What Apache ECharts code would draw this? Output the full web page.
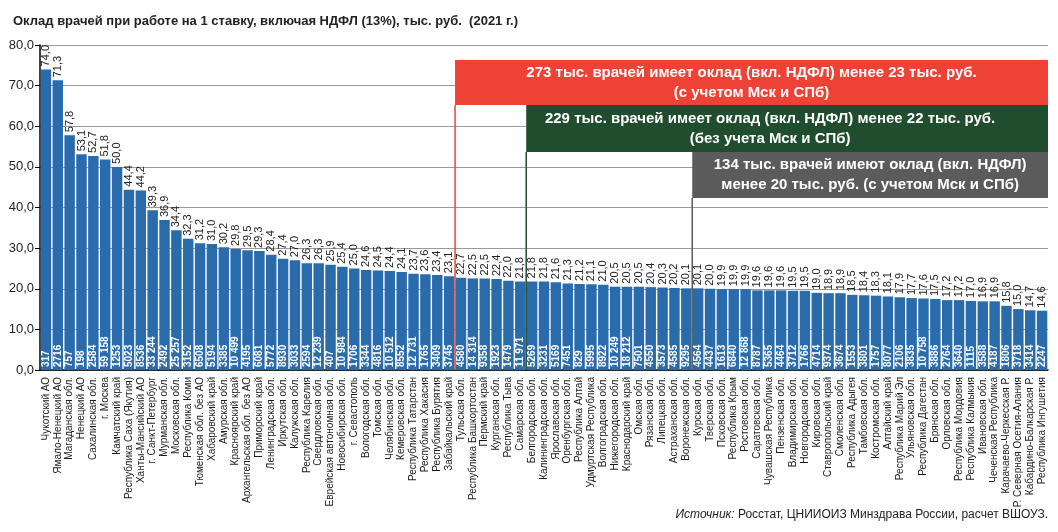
<!DOCTYPE html>
<html><head><meta charset="utf-8">
<script src="https://cdn.jsdelivr.net/npm/echarts@6/dist/echarts.min.js"></script>
<style>html,body{margin:0;padding:0;background:#fff}#c{width:1058px;height:532px}</style>
</head><body><div id="c"></div>
<script>
const regions = ['Чукотский АО','Ямало-Ненецкий АО','Магаданская обл.','Ненецкий АО','Сахалинская обл.','г. Москва','Камчатский край','Республика Саха (Якутия)','Ханты-Мансийский АО','г. Санкт-Петербург','Мурманская обл.','Московская обл.','Республика Коми','Тюменская обл. без АО','Хабаровский край','Амурская обл.','Красноярский край','Архангельская обл. без АО','Приморский край','Ленинградская обл.','Иркутская обл.','Калужская обл.','Республика Карелия','Свердловская обл.','Еврейская автономная обл.','Новосибирская обл.','г. Севастополь','Вологодская обл.','Томская обл.','Челябинская обл.','Кемеровская обл.','Республика Татарстан','Республика Хакасия','Республика Бурятия','Забайкальский край','Тульская обл.','Республика Башкортостан','Пермский край','Курганская обл.','Республика Тыва','Самарская обл.','Белгородская обл.','Калининградская обл.','Ярославская обл.','Оренбургская обл.','Республика Алтай','Удмуртская Республика','Волгоградская обл.','Нижегородская обл.','Краснодарский край','Омская обл.','Рязанская обл.','Липецкая обл.','Астраханская обл.','Воронежская обл.','Курская обл.','Тверская обл.','Псковская обл.','Республика Крым','Ростовская обл.','Саратовская обл.','Чувашская Республика','Пензенская обл.','Владимирская обл.','Новгородская обл.','Кировская обл.','Ставропольский край','Смоленская обл.','Республика Адыгея','Тамбовская обл.','Костромская обл.','Алтайский край','Республика Марий Эл','Ульяновская обл.','Республика Дагестан','Брянская обл.','Орловская обл.','Республика Мордовия','Республика Калмыкия','Ивановская обл.','Чеченская Республика','Карачаево-Черкесская Р.','Р. Северная Осетия-Алания','Кабардино-Балкарская Р.','Республика Ингушетия'];
const salaries = [74.0,71.3,57.8,53.1,52.7,51.8,50.0,44.4,44.2,39.3,36.9,34.4,32.3,31.2,31.0,30.2,29.8,29.5,29.3,28.4,27.4,27.0,26.3,26.3,25.9,25.4,25.0,24.6,24.5,24.4,24.1,23.7,23.6,23.4,23.1,22.7,22.5,22.5,22.4,22.0,21.8,21.8,21.8,21.6,21.3,21.2,21.1,21.0,20.5,20.5,20.5,20.4,20.3,20.2,20.1,20.1,20.0,19.9,19.9,19.9,19.6,19.6,19.6,19.5,19.5,19.0,18.9,18.9,18.5,18.4,18.3,18.1,17.9,17.7,17.6,17.5,17.2,17.2,17.0,16.9,16.9,15.8,15.0,14.7,14.6];
const doctors = ['317','2716','757','198','2584','59 158','1253','5023','8536','33 244','2492','25 257','3152','6508','5194','3385','10 499','4195','6081','5772','8930','3033','2594','12 239','407','10 984','1706','3344','4816','10 512','8552','12 731','1765','3409','3745','4580','14 314','9358','1923','1479','11 971','5269','3231','5169','7451','829','5995','8922','10 249','18 212','7501','4550','3573','4585','9295','4564','4437','1613','6840','12 868','8787','5365','4464','3712','1766','4714','9374','3674','1553','3801','1757','8077','2106','3835','10 758','3886','2764','3640','1115','3588','4187','1806','3718','3414','2247'];
const yTicks = {min: 0, max: 80, step: 10};
const noteStarts = ['Тульская обл.', 'Белгородская обл.', 'Курская обл.'];
const noteTexts = [
  ['273 тыс. врачей имеет оклад (вкл. НДФЛ) менее 23 тыс. руб.', '(с учетом Мск и СПб)'],
  ['229 тыс. врачей имеет оклад (вкл. НДФЛ) менее 22 тыс. руб.', '(без учета Мск и СПб)'],
  ['134 тыс. врачей имеют оклад (вкл. НДФЛ)', 'менее 20 тыс. руб. (с учетом Мск и СПб)']
];
const titleText = 'Оклад врачей при работе на 1 ставку, включая НДФЛ (13%), тыс. руб.  (2021 г.)';
const sourceText = ['Источник:', ' Росстат, ЦНИИОИЗ Минздрава России, расчет ВШОУЗ.'];

const F = '"Liberation Sans",Arial,sans-serif';
const noteColors = ['#EE4236', '#1F4D2E', '#5B5B5B'];
const noteBoxes = [[60, 105], [105, 152], [152, 198]];
const fmt = v => v.toFixed(1).replace('.', ',');

const chart = echarts.init(document.getElementById('c'), null, {renderer: 'canvas'});
chart.setOption({
  animation: false,
  title: {text: titleText, left: 8, top: 10, textStyle: {fontFamily: F, fontSize: 13, fontWeight: 'bold', color: '#222'}},
  grid: {left: 40, right: 10, top: 45, bottom: 162},
  xAxis: {type: 'category', data: regions,
    axisLine: {lineStyle: {color: '#000', width: 1.5}}, axisTick: {show: false},
    axisLabel: {interval: 0, rotate: 90, fontSize: 10, fontFamily: F, color: '#1a1a1a', margin: 7}},
  yAxis: {type: 'value', min: yTicks.min, max: yTicks.max, interval: yTicks.step,
    axisLine: {show: true, lineStyle: {color: '#000', width: 1.5}},
    axisTick: {show: true, length: 5, lineStyle: {color: '#000'}},
    splitLine: {lineStyle: {color: '#9a9a9a'}},
    axisLabel: {formatter: fmt, fontSize: 13, fontFamily: F, color: '#222', margin: 6}},
  series: [
    {type: 'bar', data: salaries, barCategoryGap: '12%', itemStyle: {color: '#2A6BAB'}, z: 2,
     label: {show: true, position: 'top', rotate: 90, align: 'left', verticalAlign: 'middle', distance: 3,
       formatter: p => fmt(p.value), fontSize: 11, fontFamily: F, color: '#222'}},
    {type: 'bar', data: salaries, barGap: '-100%', barCategoryGap: '12%', itemStyle: {color: 'rgba(0,0,0,0)'}, silent: true, z: 3,
     label: {show: true, position: 'insideBottom', rotate: 90, align: 'left', verticalAlign: 'middle', distance: 3,
       formatter: p => doctors[p.dataIndex], fontSize: 10, fontFamily: F, fontWeight: 'bold', color: '#fff'}}
  ]
});

const x0 = chart.convertToPixel({xAxisIndex: 0}, 0);
const bw = chart.convertToPixel({xAxisIndex: 0}, 1) - x0;
const yBase = chart.convertToPixel({yAxisIndex: 0}, 0);
const xRight = 1058 - 10;
const graphics = [];
noteStarts.forEach((name, i) => {
  const idx = regions.indexOf(name);
  const xl = x0 + bw * idx - bw / 2;
  const [t, b] = noteBoxes[i];
  graphics.push({type: 'line', z: 10, shape: {x1: xl, y1: b, x2: xl, y2: yBase}, style: {stroke: noteColors[i], lineWidth: 1.5}});
  graphics.push({type: 'rect', z: 11, shape: {x: xl, y: t, width: xRight - xl, height: b - t}, style: {fill: noteColors[i]}});
  graphics.push({type: 'text', z: 12, x: (xl + xRight) / 2 - (i === 1 ? 17 : 0), y: (t + b) / 2,
    style: {text: noteTexts[i].join('\n'), fill: '#fff', font: 'bold 15px ' + F, align: 'center', verticalAlign: 'middle', lineHeight: 20}});
});
graphics.push({type: 'text', right: 10, top: 509, z: 12,
  style: {text: '{i|' + sourceText[0] + '}{n|' + sourceText[1] + '}', rich: {
    i: {fontStyle: 'italic', fontSize: 12, fontFamily: F, fill: '#222', color: '#222'},
    n: {fontSize: 12, fontFamily: F, fill: '#222', color: '#222'}}}});
chart.setOption({graphic: graphics});
</script></body></html>
